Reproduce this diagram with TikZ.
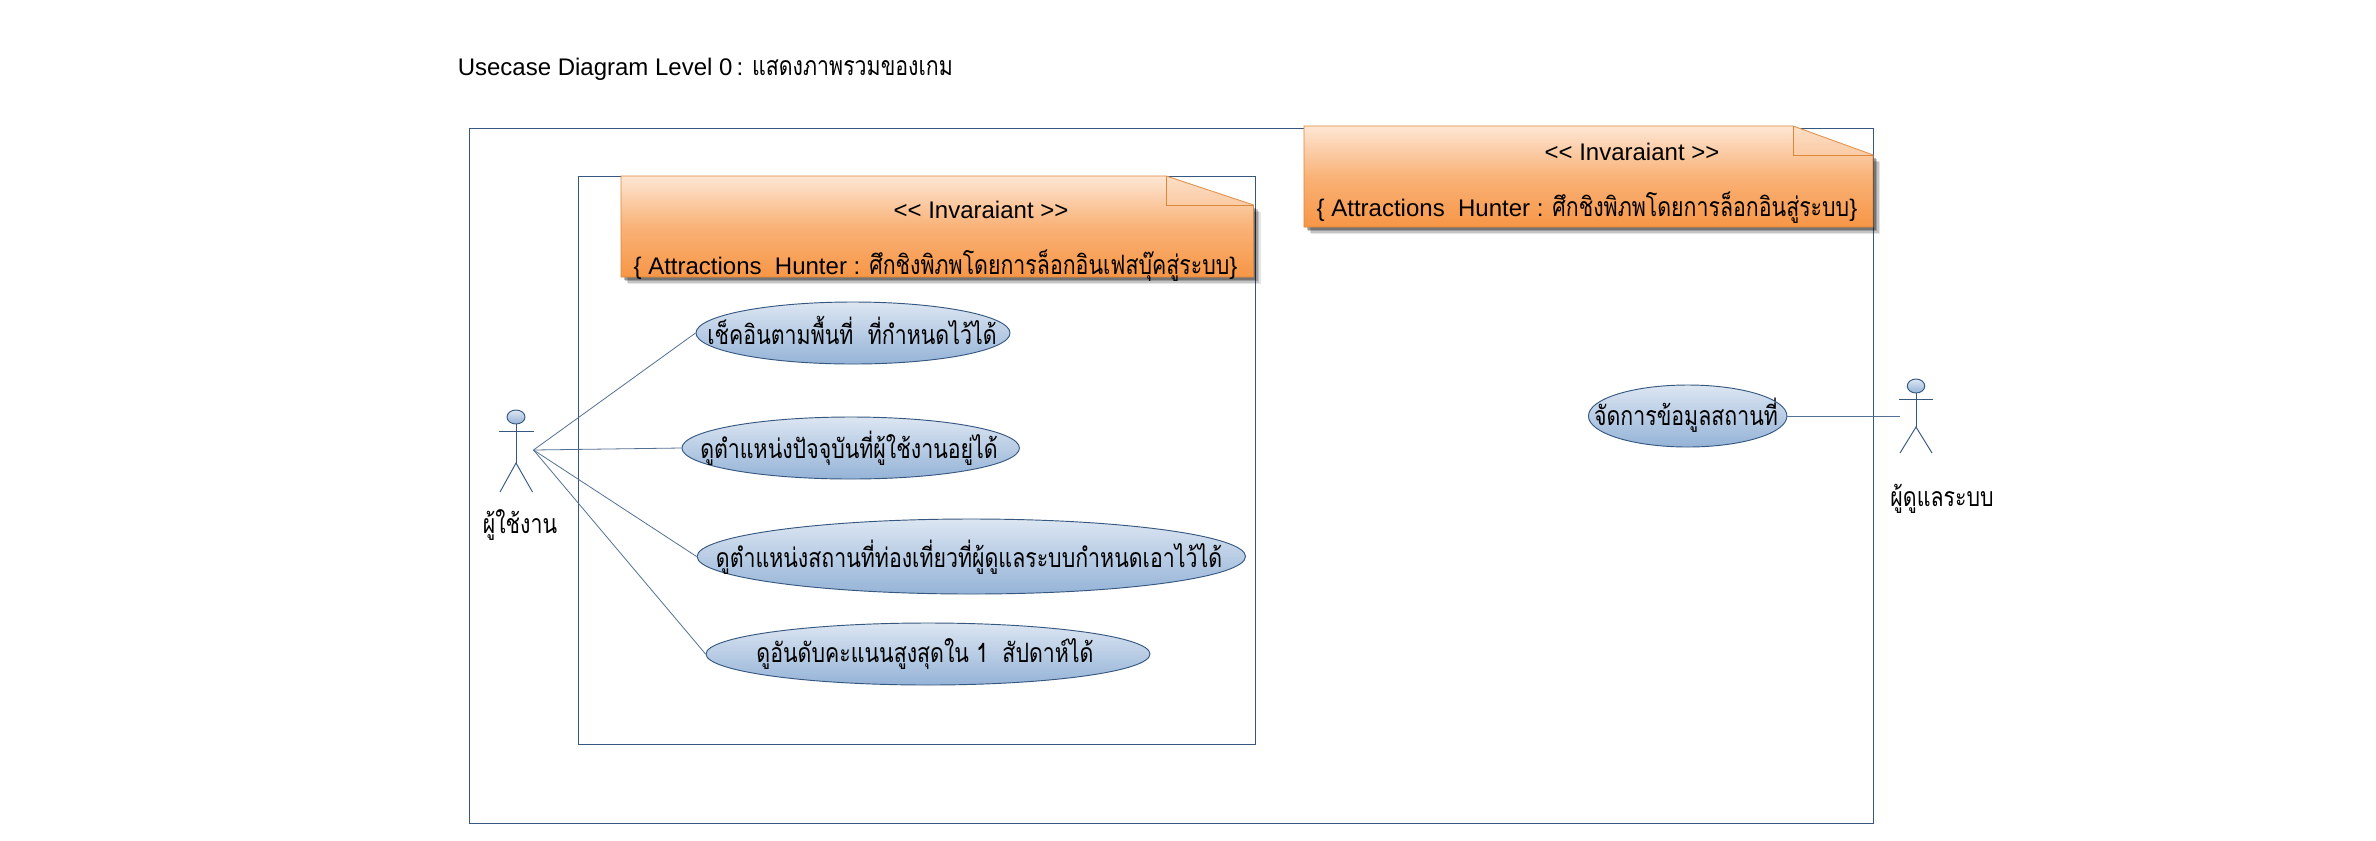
\documentclass[tikz,border=0pt]{standalone}
\usepackage{fontspec}
\setmainfont{Liberation Sans}
\newfontfamily\thf[Script=Thai,FakeStretch=0.8]{Loma}
\usetikzlibrary{shapes.geometric}
\definecolor{lineblue}{HTML}{365880}
\definecolor{ustop}{HTML}{DCE6F2}
\definecolor{usbot}{HTML}{95B3D7}
\definecolor{notetop}{HTML}{FDE6D4}
\definecolor{notebot}{HTML}{F79646}
\definecolor{noteline}{HTML}{DD8738}
\tikzset{
  x=0.75pt,y=-0.75pt,
  frame/.style={draw=lineblue,line width=0.8pt},
  usecase/.style={ellipse,draw=lineblue,line width=0.7pt,inner sep=0pt,top color=ustop,bottom color=usbot},
  stick/.style={draw=lineblue,line width=0.7pt},
  assoc/.style={draw=lineblue!85,line width=0.6pt},
  head/.style={ellipse,draw=lineblue,line width=0.7pt,inner sep=0pt,top color=ustop,bottom color=usbot},
  notefill/.style={draw=noteline,line width=0.7pt,top color=notetop,bottom color=notebot,middle color=notebot!65!notetop},
  txt/.style={inner sep=0pt,text=black,font=\fontsize{18pt}{21pt}\selectfont},
  ttxt/.style={inner sep=0pt,text=black,font=\fontsize{20pt}{22pt}\selectfont\thf},
}
\newcommand{\thi}[1]{{\thf\fontsize{20pt}{22pt}\selectfont #1}}
\newcommand{\notepath}[6]{%
  (#1,#2) -- (#5,#2) -- (#3,#6) -- (#3,#4) -- (#1,#4) -- cycle}
\newcommand{\noteshadow}[6]{%
  \foreach \d/\o in {7/0.10,5.5/0.14,4/0.20,2.5/0.25}{
    \fill[black,opacity=\o] ([xshift=\d*0.75pt,yshift=-\d*0.75pt]#1,#6) -- ([xshift=\d*0.75pt,yshift=-\d*0.75pt]#3,#6) -- ([xshift=\d*0.75pt,yshift=-\d*0.75pt]#3,#4) -- ([xshift=\d*0.75pt,yshift=-\d*0.75pt]#1,#4) -- cycle;
  }}
\begin{document}
\begin{tikzpicture}
\useasboundingbox (0,0) rectangle (2376,840);
\fill[white] (0,0) rectangle (2376,840);
% title
\node[anchor=base west,txt] (title) at (457.5,75) {Usecase Diagram Level 0\,: \thi{แสดงภาพรวมของเกม}};
% boundaries
\node[frame,anchor=north west,minimum width=1403.5*0.75pt,minimum height=695*0.75pt,inner sep=0pt] (outer) at (469,128) {};
\node[frame,anchor=north west,minimum width=677*0.75pt,minimum height=568*0.75pt,inner sep=0pt] (inner) at (578,176) {};
% note 1
\noteshadow{621}{176}{1253.5}{277}{1166}{205}
\draw[notefill] \notepath{621}{176}{1253.5}{277}{1166}{205};
\fill[notetop!75!notebot,opacity=.35] (1166,176) -- (1253.5,205) -- (1166,205) -- cycle;
\draw[draw=noteline,line width=0.7pt] (1166,176) -- (1166,205) -- (1253.5,205);
\node[txt,anchor=base] (n1a) at (981,218) {{<}{<} Invaraiant {>}{>}};
\node[txt,anchor=base] (n1b) at (935.5,274) {\{ Attractions\ \ Hunter : \thi{ศึกชิงพิภพโดยการล็อกอินเฟสบุ๊คสู่ระบบ}\}};
% note 2
\noteshadow{1304}{126}{1873}{227}{1793}{155}
\draw[notefill] \notepath{1304}{126}{1873}{227}{1793}{155};
\fill[notetop!75!notebot,opacity=.35] (1793,126) -- (1873,155) -- (1793,155) -- cycle;
\draw[draw=noteline,line width=0.7pt] (1793,126) -- (1793,155) -- (1873,155);
\node[txt,anchor=base] (n2a) at (1632,160) {{<}{<} Invaraiant {>}{>}};
\node[txt,anchor=base] (n2b) at (1587,216) {\{ Attractions\ \ Hunter : \thi{ศึกชิงพิภพโดยการล็อกอินสู่ระบบ}\}};
% use cases
\node[usecase,minimum width=314*0.75pt,minimum height=62*0.75pt] (e1) at (853,333) {};
\node[usecase,minimum width=337.5*0.75pt,minimum height=62*0.75pt] (e2) at (850.7,448) {};
\node[usecase,minimum width=548.5*0.75pt,minimum height=75*0.75pt] (e3) at (971.3,556.5) {};
\node[usecase,minimum width=444*0.75pt,minimum height=62*0.75pt] (e4) at (928,654) {};
\node[usecase,minimum width=198.5*0.75pt,minimum height=62*0.75pt] (e5) at (1687.7,416) {};
\node[ttxt] (t1) at (852,330) {เช็คอินตามพื้นที่ \ ที่กำหนดไว้ได้};
\node[ttxt] (t2) at (849,448) {ดูตำแหน่งปัจจุบันที่ผู้ใช้งานอยู่ได้};
\node[ttxt] (t3) at (969,557) {ดูตำแหน่งสถานที่ท่องเที่ยวที่ผู้ดูแลระบบกำหนดเอาไว้ได้};
\node[ttxt] (t4) at (925,654) {ดูอันดับคะแนนสูงสุดใน 1 \ สัปดาห์ได้};
\node[ttxt] (t5) at (1686,415) {จัดการข้อมูลสถานที่};
% actor 1
\node[head,minimum width=18*0.75pt,minimum height=14*0.75pt] (a1head) at (516,417) {};
\coordinate (a1la) at (498.5,431);
\coordinate (a1ra) at (533.5,431);
\coordinate (a1hip) at (516,463);
\coordinate (a1ll) at (500,492);
\coordinate (a1rl) at (532.5,492);
\coordinate (a1hub) at (533.5,450);
\draw[stick] (a1head) -- (a1hip);
\draw[stick] (a1la) -- (a1ra);
\draw[stick] (a1ll) -- (a1hip) -- (a1rl);
\node[ttxt] (a1label) at (520,525) {ผู้ใช้งาน};
% actor 2
\node[head,minimum width=17.5*0.75pt,minimum height=14*0.75pt] (a2head) at (1916,386) {};
\coordinate (a2la) at (1899,399);
\coordinate (a2ra) at (1933,399);
\coordinate (a2hip) at (1916,427);
\coordinate (a2ll) at (1900,453);
\coordinate (a2rl) at (1932,453);
\coordinate (a2hub) at (1899.5,416);
\draw[stick] (a2head) -- (a2hip);
\draw[stick] (a2la) -- (a2ra);
\draw[stick] (a2ll) -- (a2hip) -- (a2rl);
\node[ttxt] (a2label) at (1942,499) {ผู้ดูแลระบบ};
% connectors
\draw[assoc] (a1hub) -- (e1.west);
\draw[assoc] (a1hub) -- (e2.west);
\draw[assoc] (a1hub) -- (e3.west);
\draw[assoc] (a1hub) -- (e4.west);
\draw[assoc] (e5.east) -- (a2hub);
\end{tikzpicture}
\end{document}
